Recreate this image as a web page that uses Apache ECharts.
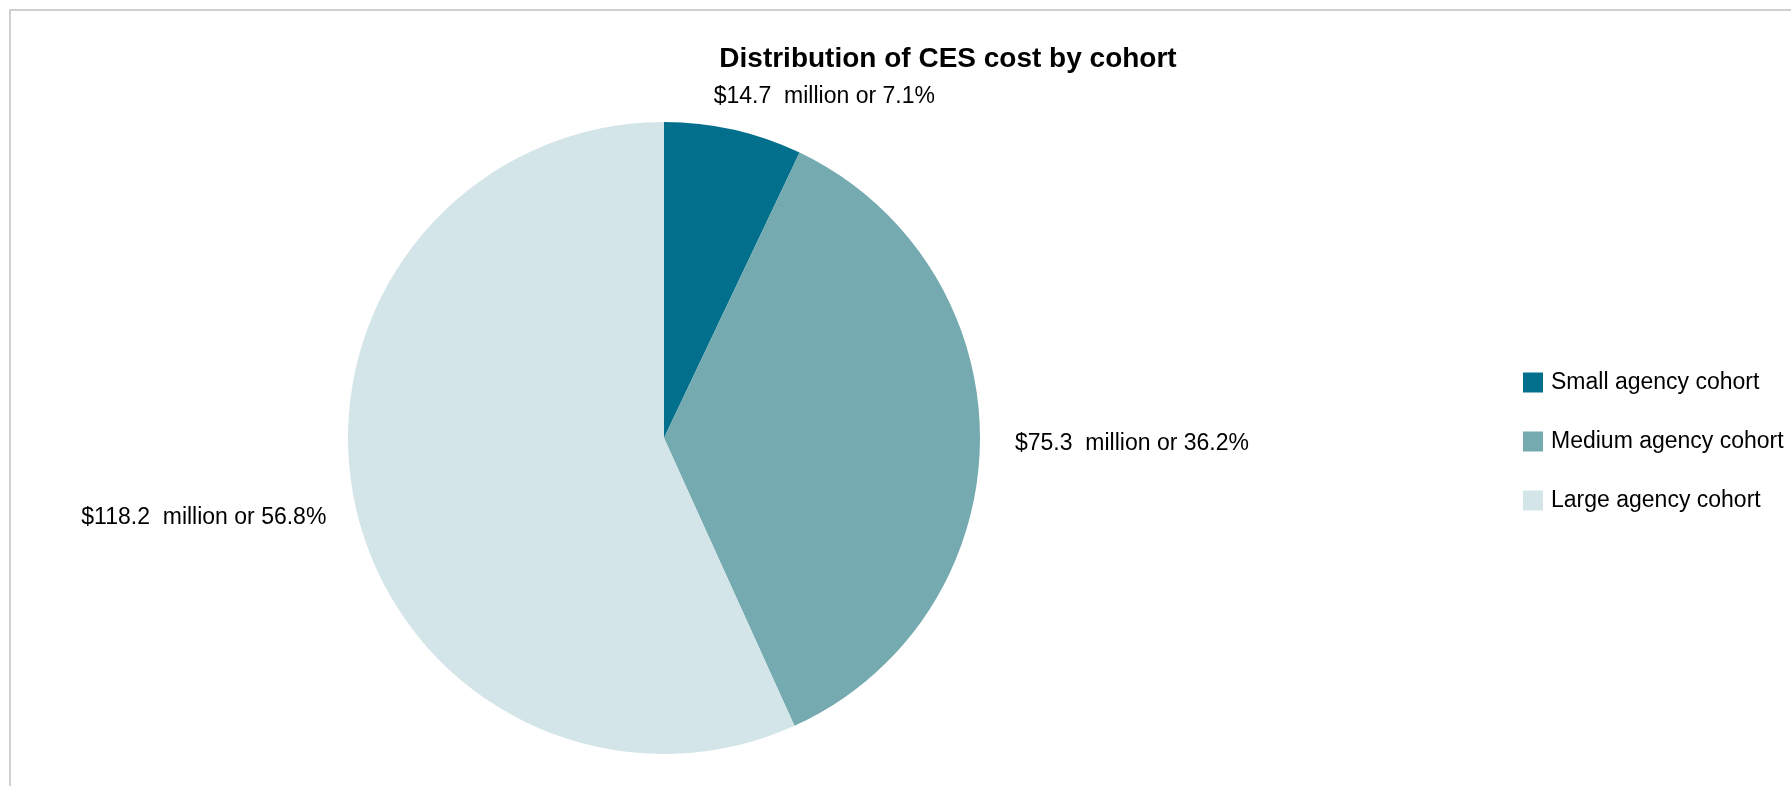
<!DOCTYPE html>
<html>
<head>
<meta charset="utf-8">
<title>Distribution of CES cost by cohort</title>
<script src="https://cdn.jsdelivr.net/npm/echarts@6/dist/echarts.min.js"></script>
<style>
  html, body { margin: 0; padding: 0; background: #ffffff; }
  #chart { width: 1791px; height: 786px; }
</style>
</head>
<body>
<div id="chart"></div>
<script>
// Cohort names, CES cost in $ million, and slice colours
const cohorts = ['Small agency cohort', 'Medium agency cohort', 'Large agency cohort'];
const costMillions = [14.7, 75.3, 118.2];
const cohortColors = ['#02708c', '#75abb0', '#d3e5e8'];

const total = costMillions.reduce((a, b) => a + b, 0);
const FONT = '"Liberation Sans", Arial, sans-serif';

// Nudges applied to the outside slice labels, in pixels
const labelNudge = [[-47, -23], [0, 3], [6, 11]];

const chart = echarts.init(document.getElementById('chart'), null, { renderer: 'canvas' });

chart.setOption({
  backgroundColor: '#ffffff',
  animation: false,
  title: {
    text: 'Distribution of CES cost by cohort',
    left: 943,
    top: 40,
    textAlign: 'center',
    textStyle: { fontFamily: FONT, fontSize: 28, fontWeight: 'bold', color: '#000000' }
  },
  legend: {
    orient: 'vertical',
    left: 1518,
    top: 366,
    icon: 'rect',
    itemWidth: 20,
    itemHeight: 20,
    itemGap: 36,
    selectedMode: false,
    data: cohorts,
    textStyle: { fontFamily: FONT, fontSize: 23, color: '#000000', lineHeight: 20, padding: [0, 0, 0, 3] }
  },
  graphic: [{
    type: 'rect',
    silent: true,
    shape: { x: 10, y: 10, width: 1800, height: 800 },
    style: { fill: 'none', stroke: '#d0d0d0', lineWidth: 2 }
  }],
  series: [{
    type: 'pie',
    center: [664, 438],
    radius: 316,
    startAngle: 90,
    clockwise: true,
    avoidLabelOverlap: false,
    color: cohortColors,
    itemStyle: { borderWidth: 0 },
    label: {
      show: true,
      position: 'outside',
      fontFamily: FONT,
      fontSize: 23,
      color: '#000000',
      formatter: p => '$' + p.value.toFixed(1) + '  million or ' + (p.value / total * 100).toFixed(1) + '%'
    },
    labelLine: { show: false, length: 10, length2: 20 },
    labelLayout: p => ({ dx: labelNudge[p.dataIndex][0], dy: labelNudge[p.dataIndex][1] }),
    emphasis: { disabled: true },
    data: cohorts.map((name, i) => ({ name, value: costMillions[i] }))
  }]
});
</script>
</body>
</html>
